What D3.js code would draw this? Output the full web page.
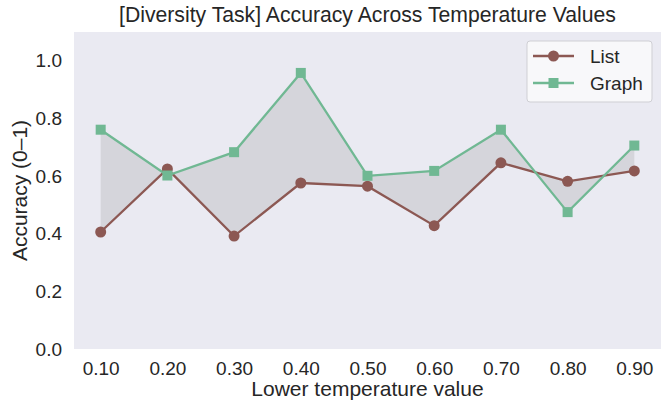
<!DOCTYPE html>
<html>
<head>
<meta charset="utf-8">
<script src="https://cdn.jsdelivr.net/npm/d3@7.9.0/dist/d3.min.js"></script>
<style>
  body { margin: 0; background: #fff; }
  svg { font-family: "Liberation Sans", Arial, sans-serif; }
</style>
</head>
<body>
<svg id="chart" width="662" height="402"></svg>
<script>
// Data
const temps = [0.1, 0.2, 0.3, 0.4, 0.5, 0.6, 0.7, 0.8, 0.9];
const listAcc = [0.406, 0.625, 0.392, 0.576, 0.565, 0.428, 0.646, 0.582, 0.618];
const graphAcc = [0.761, 0.602, 0.683, 0.958, 0.601, 0.618, 0.761, 0.475, 0.706];
const yTicks = [0, 0.2, 0.4, 0.6, 0.8, 1.0];

const listColor = '#8c5853';
const graphColor = '#70b893';
const textColor = '#262626';

const svg = d3.select('#chart');
const margin = { left: 74, right: 1, top: 32, bottom: 53 };
const width = 662, height = 402;

// Scales
const x = d3.scaleLinear().domain([0.06, 0.94]).range([margin.left, width - margin.right]);
const y = d3.scaleLinear().domain([0, 1.1]).range([height - margin.bottom, margin.top]);

// Plot background
svg.append('rect')
  .attr('x', margin.left)
  .attr('y', margin.top)
  .attr('width', width - margin.left - margin.right)
  .attr('height', height - margin.top - margin.bottom)
  .attr('fill', '#eaeaf2');

const rows = temps.map((t, i) => ({ t, list: listAcc[i], graph: graphAcc[i] }));

// Shaded region between the two series
const area = d3.area()
  .x((d) => x(d.t))
  .y0((d) => y(d.list))
  .y1((d) => y(d.graph));

svg.append('path')
  .attr('d', area(rows))
  .attr('fill', 'gray')
  .attr('fill-opacity', 0.2);

// Lines
const line = d3.line().x((d) => x(d[0])).y((d) => y(d[1]));

svg.append('path')
  .attr('d', line(temps.map((t, i) => [t, listAcc[i]])))
  .attr('fill', 'none')
  .attr('stroke', listColor)
  .attr('stroke-width', 2.3);

svg.append('path')
  .attr('d', line(temps.map((t, i) => [t, graphAcc[i]])))
  .attr('fill', 'none')
  .attr('stroke', graphColor)
  .attr('stroke-width', 2.3);

// Markers
svg.selectAll('circle.list')
  .data(rows)
  .join('circle')
  .attr('class', 'list')
  .attr('cx', (d) => x(d.t))
  .attr('cy', (d) => y(d.list))
  .attr('r', 5.5)
  .attr('fill', listColor);

svg.selectAll('rect.graph')
  .data(rows)
  .join('rect')
  .attr('class', 'graph')
  .attr('x', (d) => x(d.t) - 5)
  .attr('y', (d) => y(d.graph) - 5)
  .attr('width', 10)
  .attr('height', 10)
  .attr('fill', graphColor);

// Axes (no tick lines, no domain)
const xAxis = svg.append('g')
  .attr('transform', `translate(0,${height - margin.bottom})`)
  .call(d3.axisBottom(x).tickValues(temps).tickFormat(d3.format('.2f')).tickSize(0).tickPadding(12.5));
xAxis.select('.domain').remove();
xAxis.selectAll('text').attr('font-size', 19).attr('fill', textColor);
xAxis.attr('font-family', null);

const yAxis = svg.append('g')
  .attr('transform', `translate(${margin.left},0)`)
  .call(d3.axisLeft(y).tickValues(yTicks).tickFormat(d3.format('.1f')).tickSize(0).tickPadding(12));
yAxis.select('.domain').remove();
yAxis.selectAll('text').attr('font-size', 19).attr('fill', textColor);
yAxis.attr('font-family', null);

// Title and axis labels
svg.append('text')
  .attr('x', (margin.left + width - margin.right) / 2)
  .attr('y', 22)
  .attr('text-anchor', 'middle')
  .attr('font-size', 21.2)
  .attr('fill', textColor)
  .text('[Diversity Task] Accuracy Across Temperature Values');

svg.append('text')
  .attr('x', (margin.left + width - margin.right) / 2)
  .attr('y', 396)
  .attr('text-anchor', 'middle')
  .attr('font-size', 21)
  .attr('fill', textColor)
  .text('Lower temperature value');

svg.append('text')
  .attr('transform', `translate(27,${(margin.top + height - margin.bottom) / 2}) rotate(-90)`)
  .attr('text-anchor', 'middle')
  .attr('font-size', 21)
  .attr('fill', textColor)
  .text('Accuracy (0\u20131)');

// Legend
const legend = svg.append('g').attr('transform', 'translate(527,41)');
legend.append('rect')
  .attr('width', 125)
  .attr('height', 61)
  .attr('rx', 3)
  .attr('fill', '#fafafb')
  .attr('fill-opacity', 0.85)
  .attr('stroke', '#cfcfd4');

const items = [
  { label: 'List', color: listColor, shape: 'circle' },
  { label: 'Graph', color: graphColor, shape: 'square' }
];
items.forEach((d, i) => {
  const g = legend.append('g').attr('transform', `translate(0,${15 + i * 27})`);
  g.append('line')
    .attr('x1', 6).attr('x2', 47)
    .attr('stroke', d.color).attr('stroke-width', 2.3);
  if (d.shape === 'circle') {
    g.append('circle').attr('cx', 26.5).attr('r', 5.5).attr('fill', d.color);
  } else {
    g.append('rect').attr('x', 21.5).attr('y', -5).attr('width', 10).attr('height', 10).attr('fill', d.color);
  }
  g.append('text')
    .attr('x', 63)
    .attr('y', 7)
    .attr('font-size', 19)
    .attr('fill', textColor)
    .text(d.label);
});
</script>
</body>
</html>
